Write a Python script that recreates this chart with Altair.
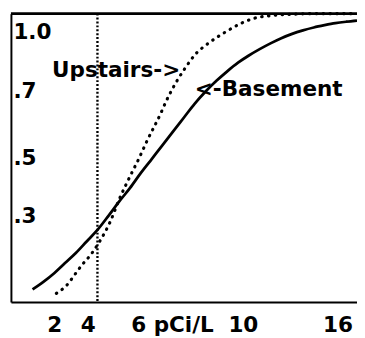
import altair as alt
import pandas as pd

# Cumulative fraction of homes vs radon level (pCi/L)
basement_x = [1.0, 1.5, 2.0, 2.5, 3.0, 3.5, 4.0, 4.5, 5.0, 5.5, 6.0, 6.5, 7.0, 7.5, 8.0,
              8.5, 9.0, 9.5, 10.0, 10.5, 11.0, 11.5, 12.0, 12.5, 13.0, 13.5, 14.0, 14.5,
              15.0, 15.5, 16.0]
basement_y = [0.044, 0.07, 0.10, 0.135, 0.17, 0.21, 0.25, 0.298, 0.348, 0.395, 0.447, 0.495,
              0.543, 0.592, 0.64, 0.688, 0.73, 0.767, 0.80, 0.83, 0.855, 0.877, 0.897, 0.915,
              0.93, 0.942, 0.952, 0.96, 0.967, 0.972, 0.976]

upstairs_x = [2.1, 2.6, 3.0, 3.3, 3.7, 4.1, 4.6, 5.0, 5.5, 5.9, 6.3, 6.9, 7.2, 7.7, 8.0,
              8.6, 9.0, 10.0, 10.6, 11.3, 12.0, 13.0, 14.0, 16.0]
upstairs_y = [0.03, 0.06, 0.10, 0.13, 0.165, 0.21, 0.28, 0.355, 0.435, 0.495, 0.56, 0.65,
              0.70, 0.77, 0.805, 0.865, 0.89, 0.94, 0.965, 0.985, 0.993, 0.998, 1.0, 1.0]

action_level = [4]

x_tick_values = [2, 4, 6, 10, 16]
x_tick_labels = ["2", "4", "6 pCi/L", "10", "16"]
y_tick_values = [0.3, 0.5, 0.7, 1.0]
y_tick_labels = [".3", ".5", ".7", "1.0"]

annotation_text = ["Upstairs->", "<-Basement"]
annotation_x = [1.9, 8.5]
annotation_y = [0.805, 0.737]

FONT = "DejaVu Sans"

basement = pd.DataFrame({"x": basement_x, "y": basement_y})
upstairs = pd.DataFrame({"x": upstairs_x, "y": upstairs_y})
rule_df = pd.DataFrame({"x": action_level})
notes = pd.DataFrame({"x": annotation_x, "y": annotation_y, "t": annotation_text})


def expr_map(values, labels):
    return "".join(f"datum.value == {v} ? '{t}' : " for v, t in zip(values, labels)) + "datum.label"


x_axis = alt.Axis(
    values=x_tick_values,
    labelExpr=expr_map(x_tick_values, x_tick_labels),
    title=None,
    ticks=False,
    grid=False,
    labelOverlap=False,
    labelFlush=False,
    labelPadding=13,
    labelOffset={
        "condition": [
            {"test": "datum.value == 4", "value": -10},
            {"test": "datum.value == 6", "value": 32},
            {"test": "datum.value == 10", "value": 16},
            {"test": "datum.value == 16", "value": -20},
        ],
        "value": 0,
    },
)

y_axis = alt.Axis(
    values=y_tick_values,
    labelExpr=expr_map(y_tick_values, y_tick_labels),
    title=None,
    ticks=False,
    grid=False,
    labelOverlap=False,
    labelFlush=False,
    labelAlign="left",
    labelBaseline="middle",
    labelPadding=-2,
    labelOffset={
        "condition": [
            {"test": "datum.value == 1", "value": 18},
            {"test": "datum.value == 0.7", "value": -10},
        ],
        "value": 0,
    },
)

xs = alt.Scale(domain=[0, 16], nice=False, zero=False)
ys = alt.Scale(domain=[0, 1], nice=False)

base_line = alt.Chart(basement).mark_line(
    color="black", strokeWidth=2.8, interpolate="monotone"
).encode(
    x=alt.X("x:Q", scale=xs, axis=x_axis),
    y=alt.Y("y:Q", scale=ys, axis=y_axis),
)

up_line = alt.Chart(upstairs).mark_line(
    color="black", strokeWidth=3.2, strokeDash=[0.5, 6.5], strokeCap="round",
    interpolate="monotone"
).encode(x=alt.X("x:Q", scale=xs), y=alt.Y("y:Q", scale=ys))

vrule = alt.Chart(rule_df).mark_rule(
    color="black", strokeWidth=2.4, strokeDash=[2, 2]
).encode(x=alt.X("x:Q", scale=xs))

top_rule = alt.Chart(rule_df).mark_rule(color="black", strokeWidth=3).encode(
    y=alt.datum(1.0, scale=ys)
)

text = alt.Chart(notes).mark_text(
    align="left", baseline="middle", font=FONT, fontSize=22, fontWeight="bold",
    color="black"
).encode(x=alt.X("x:Q", scale=xs), y=alt.Y("y:Q", scale=ys), text="t:N")

chart = alt.layer(vrule, top_rule, base_line, up_line, text).properties(
    width=354,
    height=295,
    autosize=alt.AutoSizeParams(type="none"),
    padding={"left": 3, "top": 2, "right": 0, "bottom": 33},
    background="white",
).configure_view(stroke=None).configure_axis(
    domainColor="black",
    domainWidth=2,
    labelColor="black",
    labelFont=FONT,
    labelFontSize=22,
    labelFontWeight="bold",
)

chart.save("out.html", embed_options={"renderer": "svg", "actions": False})
